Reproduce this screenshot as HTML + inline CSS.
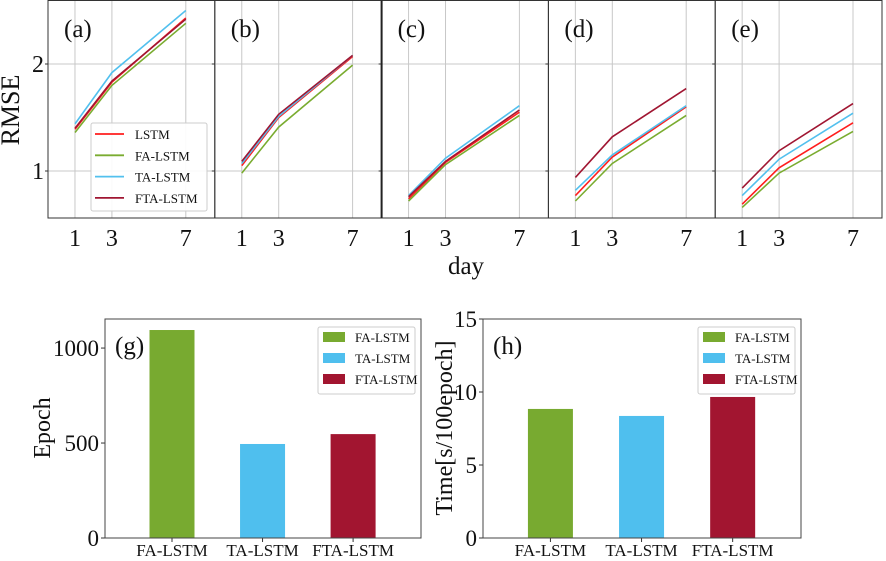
<!DOCTYPE html>
<html><head><meta charset="utf-8"><style>
body{margin:0;background:#fff;}
svg text{font-family:"Liberation Serif",serif;fill:#111;}
</style></head><body>
<svg id="chart" width="886" height="556" viewBox="0 0 886 556" xmlns="http://www.w3.org/2000/svg"></svg>
<script>
const days = [1, 3, 7];
const seriesNames = ["LSTM", "FA-LSTM", "TA-LSTM", "FTA-LSTM"];
const seriesColors = ["#ff1e1e", "#7aac30", "#52c0ee", "#a01632"];
const panelLabels = ["(a)", "(b)", "(c)", "(d)", "(e)"];
const panelA = [[1.39,1.83,2.43],[1.36,1.80,2.38],[1.44,1.92,2.50],[1.40,1.84,2.42]];
const panelB = [[1.05,1.50,2.07],[0.98,1.41,1.99],[1.07,1.51,2.08],[1.09,1.53,2.08]];
const panelC = [[0.74,1.08,1.55],[0.72,1.06,1.52],[0.77,1.12,1.61],[0.76,1.09,1.57]];
const panelD = [[0.77,1.13,1.60],[0.72,1.07,1.52],[0.82,1.15,1.61],[0.94,1.32,1.77]];
const panelE = [[0.69,1.03,1.45],[0.66,0.98,1.37],[0.77,1.11,1.54],[0.84,1.19,1.63]];
const rmseTicks = [1, 2];
const barCats = ["FA-LSTM", "TA-LSTM", "FTA-LSTM"];
const barColors = ["#78aa30", "#4fbfee", "#a21530"];
const epochValues = [1095, 495, 547];
const epochTicks = [0, 500, 1000];
const timeValues = [8.84, 8.36, 9.66];
const timeTicks = [0, 5, 10, 15];

const NS = "http://www.w3.org/2000/svg";
const svg = document.getElementById("chart");
function el(tag, attrs, parent, txt) {
  const e = document.createElementNS(NS, tag);
  for (const k in attrs) e.setAttribute(k, attrs[k]);
  if (txt !== undefined) e.textContent = txt;
  (parent || svg).appendChild(e);
  return e;
}

const panels = [panelA, panelB, panelC, panelD, panelE];
const pTop = 0.5, pBot = 218, pX0 = 48, pW = 166.8;
const yTop = v => 64 + (2 - v) * 107;
panels.forEach((data, i) => {
  const x0 = pX0 + i * pW, x1 = x0 + pW;
  const xs = d => x0 + (d + 0.46) * (pW / 9.03);
  const g = el("g", {}, svg);
  
  
  rmseTicks.forEach(t => {
    el("line", {x1: x0, x2: x1, y1: yTop(t), y2: yTop(t), stroke: "#c8c8c8", "stroke-width": 1}, g);
    el("line", {x1: x0 - 3, x2: x0, y1: yTop(t), y2: yTop(t), stroke: "#333", "stroke-width": 1}, g);
  });
  days.forEach(d => {
    el("line", {x1: xs(d), x2: xs(d), y1: pTop, y2: pBot, stroke: "#c8c8c8", "stroke-width": 1}, g);
    const t = el("text", {x: xs(d), y: 246, "text-anchor": "middle", "font-size": 24}, g, String(d));
    
    
  });
  data.forEach((s, si) => {
    const pts = s.map((v, k) => xs(days[k]).toFixed(1) + "," + yTop(v).toFixed(1)).join(" ");
    const pl = el("polyline", {points: pts, fill: "none", stroke: seriesColors[si], "stroke-width": 1.6}, g);
    
    
  });
  el("rect", {x: x0, y: pTop, width: pW, height: pBot - pTop, fill: "none", stroke: "#333", "stroke-width": 1}, g);
  const lab = el("text", {x: x0 + 16, y: 37, "font-size": 25}, g, panelLabels[i]);
  
  
});
el("line", {x1: 381.6, x2: 381.6, y1: pTop, y2: pBot, stroke: "#222", "stroke-width": 2});
rmseTicks.forEach(t => {
  const tx = el("text", {x: 44, y: yTop(t) + 8, "text-anchor": "end", "font-size": 24}, svg, String(t));
  
  
});
const ry = el("text", {x: 0, y: 0, "font-size": 26, "text-anchor": "middle", transform: "translate(19,110) rotate(-90)"}, svg, "RMSE");


const dx = el("text", {x: 466, y: 274, "font-size": 25, "text-anchor": "middle"}, svg, "day");



const lg = el("g", {}, svg);


el("rect", {x: 91, y: 123, width: 116, height: 88, rx: 2, fill: "#fff", "fill-opacity": 0.9, stroke: "#ccc"}, lg);
seriesNames.forEach((n, i) => {
  const y = 134 + i * 21.3;
  el("line", {x1: 95, x2: 124, y1: y, y2: y, stroke: seriesColors[i], "stroke-width": 1.8}, lg);
  const t = el("text", {x: 135, y: y + 5, "font-size": 13}, lg, n);
  
  
});

function barChart(x0, x1, vals, ticks, ymax, label, title, titleX, name) {
  const y0 = 538, y1 = 319;
  const ys = v => y0 - v / ymax * (y0 - y1);
  const step = (x1 - x0) / 3.49;
  const xs = i => x0 + (i + 0.74) * step;
  const g = el("g", {}, svg);
  
  
  vals.forEach((v, i) => {
    const r = el("rect", {x: xs(i) - 22.5, y: ys(v), width: 45, height: y0 - ys(v), fill: barColors[i]}, g);
    
    
    const t = el("text", {x: xs(i), y: 556, "font-size": 17, "text-anchor": "middle"}, g, barCats[i]);
    
    
  });
  ticks.forEach(t => {
    el("line", {x1: x0 - 4, x2: x0, y1: ys(t), y2: ys(t), stroke: "#333"}, g);
    const tx = el("text", {x: x0 - 6, y: ys(t) + 8, "text-anchor": "end", "font-size": 23}, g, String(t));
    
    
  });
  barCats.forEach((_, i) => el("line", {x1: xs(i), x2: xs(i), y1: y0, y2: y0 + 4, stroke: "#333"}, g));
  el("rect", {x: x0, y: y1, width: x1 - x0, height: y0 - y1, fill: "none", stroke: "#444"}, g);
  const pl = el("text", {x: x0 + 10, y: y1 + 35, "font-size": 25}, g, label);
  
  
  const yt = el("text", {x: 0, y: 0, "font-size": 24, "text-anchor": "middle", transform: "translate(" + titleX + ",428) rotate(-90)"}, g, title);
  
  
  const lx = x1 - 103;
  el("rect", {x: lx, y: 327, width: 97, height: 67, rx: 2, fill: "#fff", stroke: "#ccc"}, g);
  barCats.forEach((n, i) => {
    const y = 337 + i * 21;
    el("rect", {x: lx + 5, y: y - 5, width: 22, height: 10, fill: barColors[i]}, g);
    const t = el("text", {x: lx + 37, y: y + 5, "font-size": 13}, g, n);
    
    
  });
}
barChart(105, 421, epochValues, epochTicks, 1153, "(g)", "Epoch", 50, "epoch-bar-chart");
barChart(483, 801, timeValues, timeTicks, 15, "(h)", "Time[s/100epoch]", 452, "time-bar-chart");
</script>
</body></html>
